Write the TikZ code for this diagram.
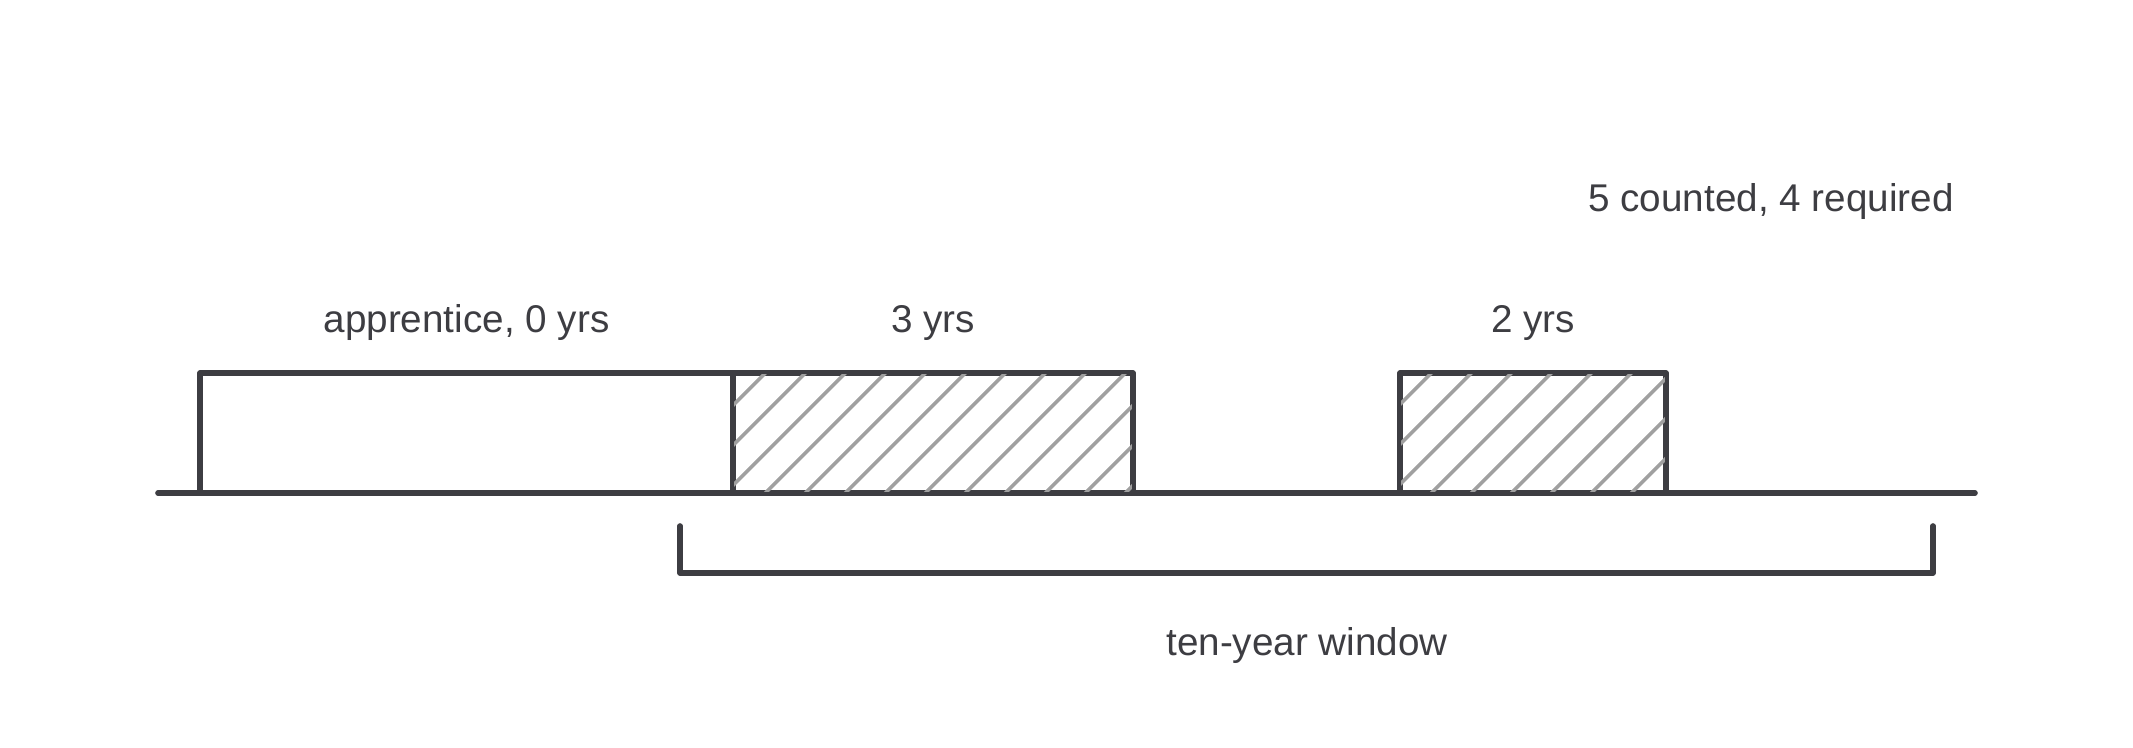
\documentclass[tikz,border=0pt]{standalone}
\usepackage{fontspec}
\setmainfont{Liberation Sans}
\usetikzlibrary{calc}
\definecolor{ink}{HTML}{3D3D42}
\definecolor{hatchgray}{HTML}{A0A0A0}

\begin{document}
\begin{tikzpicture}[period/.style = {rectangle,draw=ink,line width=1.6pt,line join=round,minimum height=12mm,inner sep=0pt},
  hatch/.style = {draw=hatchgray,line width=1pt},
  axis/.style = {draw=ink,line width=1.6pt,line cap=round,line join=round},
  lbl/.style = {text=ink,anchor=base,inner sep=0pt,font=\fontsize{11}{13}\selectfont}]

\useasboundingbox (0,0) rectangle (21.33,7.47);

\coordinate (t0) at (1.58,2.54);
\coordinate (t1) at (19.75,2.54);
\draw[axis] (t0) -- (t1);

\node[period, minimum width=53.3mm] (appr) at (4.665,3.14) {};
\node[period, minimum width=40mm] (first) at (9.33,3.14) {};
\node[period, minimum width=26.6mm] (second) at (15.33,3.14) {};

% hatching of the counted periods
\begin{scope}
\clip ($(first.south west)+(.04,.04)$) rectangle ($(first.north east)-(.04,.04)$);
\foreach \k in {-1,...,13}
  \draw[hatch] ($(first.north west)+(.38+.4*\k,0)+(-1.4,-1.4)$) -- ++(1.5,1.5);
\end{scope}
\begin{scope}
\clip ($(second.south west)+(.04,.04)$) rectangle ($(second.north east)-(.04,.04)$);
\foreach \k in {-1,...,10}
  \draw[hatch] ($(second.north west)+(.37+.4*\k,0)+(-1.4,-1.4)$) -- ++(1.5,1.5);
\end{scope}

\node[lbl] (apprlbl) at (4.665,4.15) {apprentice, 0 yrs};
\node[lbl] (firstlbl) at (9.33,4.15) {3 yrs};
\node[lbl] (secondlbl) at (15.33,4.15) {2 yrs};
\node[lbl] (tally) at (17.71,5.35) {5 counted, 4 required};

% window bracket
\coordinate (w0) at (6.80,2.21);
\coordinate (w1) at (19.33,2.21);
\coordinate (wend) at (19.33,1.74);
\draw[axis] (w0) |- (wend) -- (w1);
\node[lbl] (windowlbl) at (13.07,0.92) {ten-year window};

\end{tikzpicture}
\end{document}
